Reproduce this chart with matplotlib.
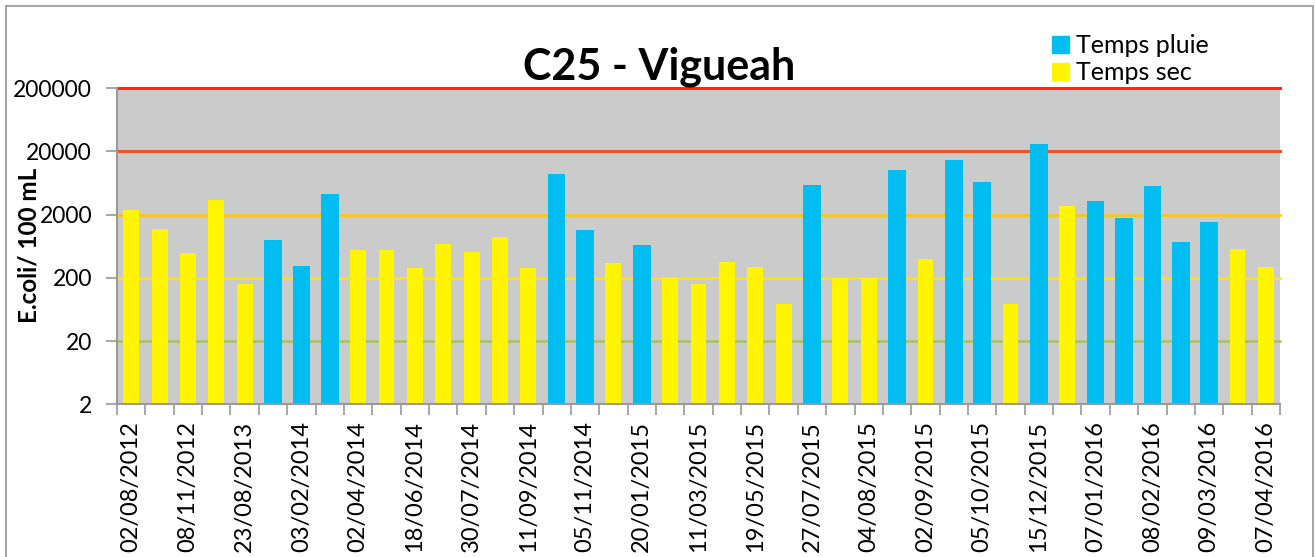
import matplotlib
matplotlib.use('Agg')
import matplotlib.pyplot as plt
from matplotlib.patches import Rectangle, Patch
from matplotlib.ticker import FixedLocator, NullFormatter

# Data (E.coli / 100 mL per sampling)
values = [2400, 1180, 500, 3450, 160, 780, 310, 4300, 550, 550,
          290, 680, 510, 870, 290, 8700, 1160, 340, 660, 200,
          160, 355, 300, 77, 5950, 200, 200, 10000, 395, 14400,
          6550, 77, 25700, 2700, 3330, 1780, 5650, 730, 1520, 575, 300]
# P = temps pluie, S = temps sec
weather = ['S', 'S', 'S', 'S', 'S', 'P', 'P', 'P', 'S', 'S',
           'S', 'S', 'S', 'S', 'S', 'P', 'P', 'S', 'P', 'S',
           'S', 'S', 'S', 'S', 'P', 'S', 'S', 'P', 'S', 'P',
           'P', 'S', 'P', 'S', 'P', 'P', 'P', 'P', 'P', 'S', 'S']
# only every other date is shown on the axis
date_labels = ['02/08/2012', '08/11/2012', '23/08/2013', '03/02/2014', '02/04/2014',
               '18/06/2014', '30/07/2014', '11/09/2014', '05/11/2014', '20/01/2015',
               '11/03/2015', '19/05/2015', '27/07/2015', '04/08/2015', '02/09/2015',
               '05/10/2015', '15/12/2015', '07/01/2016', '08/02/2016', '09/03/2016',
               '07/04/2016']
y_ticks = [2, 20, 200, 2000, 20000, 200000]
thresholds = [(200000, '#FF2A0A'), (20000, '#F0522A'), (2000, '#FFC400'),
              (200, '#FFE600'), (20, '#A8C35A')]

blue = '#00BEF2'
yellow = '#FFF500'

plt.rcParams['font.family'] = ['Lato', 'DejaVu Sans']

fig = plt.figure(figsize=(13.15, 5.57), dpi=100)
ax = fig.add_axes([0.089, 0.274, 0.8844, 0.568])

# Plot bars by weather type
x_rain = [i for i, w in enumerate(weather) if w == 'P']
x_dry = [i for i, w in enumerate(weather) if w == 'S']
ax.bar(x_rain, [values[i] for i in x_rain], width=0.62, color=blue, zorder=3)
ax.bar(x_dry, [values[i] for i in x_dry], width=0.56, color=yellow, zorder=3)

ax.set_yscale('log')
ax.set_ylim(2, 200000)
ax.set_xlim(-0.5, len(values) - 0.5)
ax.set_facecolor('#CBCBCB')

# Threshold lines
for level, col in thresholds:
    lw = 2.2 if level >= 20000 else 1.8
    ax.axhline(level, color=col, lw=lw, zorder=2, clip_on=False)

ax.yaxis.set_major_locator(FixedLocator(y_ticks))
ax.yaxis.set_minor_locator(FixedLocator([]))
ax.set_yticklabels([str(v) for v in y_ticks])
ax.tick_params(axis='y', labelsize=16.5, length=8, width=1.2, color='#999999', pad=10)

ax.set_xticks(range(0, len(values), 2))
ax.set_xticklabels(date_labels, rotation=90, fontsize=17)
ax.set_xticks([i - 0.5 for i in range(len(values) + 1)], minor=True)
ax.xaxis.set_minor_formatter(NullFormatter())
ax.tick_params(axis='x', which='major', length=0, pad=12)
ax.tick_params(axis='x', which='minor', length=8, width=1.2, color='#999999')

for side in ['top', 'right']:
    ax.spines[side].set_visible(False)
for side in ['left', 'bottom']:
    ax.spines[side].set_color('#999999')
    ax.spines[side].set_linewidth(1.5)
    ax.spines[side].set_zorder(4)

fig.text(0.501, 0.858, 'C25 - Vigueah', ha='center', va='baseline',
         fontsize=31, fontweight='bold')
fig.text(0.022, 0.559, 'E.coli/ 100 mL', rotation=90, ha='center', va='center',
         fontsize=17.5, fontweight='bold')

handles = [Patch(color=blue, label='Temps pluie'), Patch(color=yellow, label='Temps sec')]
fig.legend(handles=handles, loc='upper left', bbox_to_anchor=(0.787, 0.97),
           frameon=False, fontsize=18, handlelength=0.65, handleheight=0.65,
           handletextpad=0.3, labelspacing=0.15, borderpad=0.2)

# Outer frame
fig.patches.append(Rectangle((0.0046, -0.01), 0.994, 0.9992, transform=fig.transFigure,
                             fill=False, edgecolor='#A6A6A6', lw=1.5))

fig.savefig('out.png', dpi=100)
